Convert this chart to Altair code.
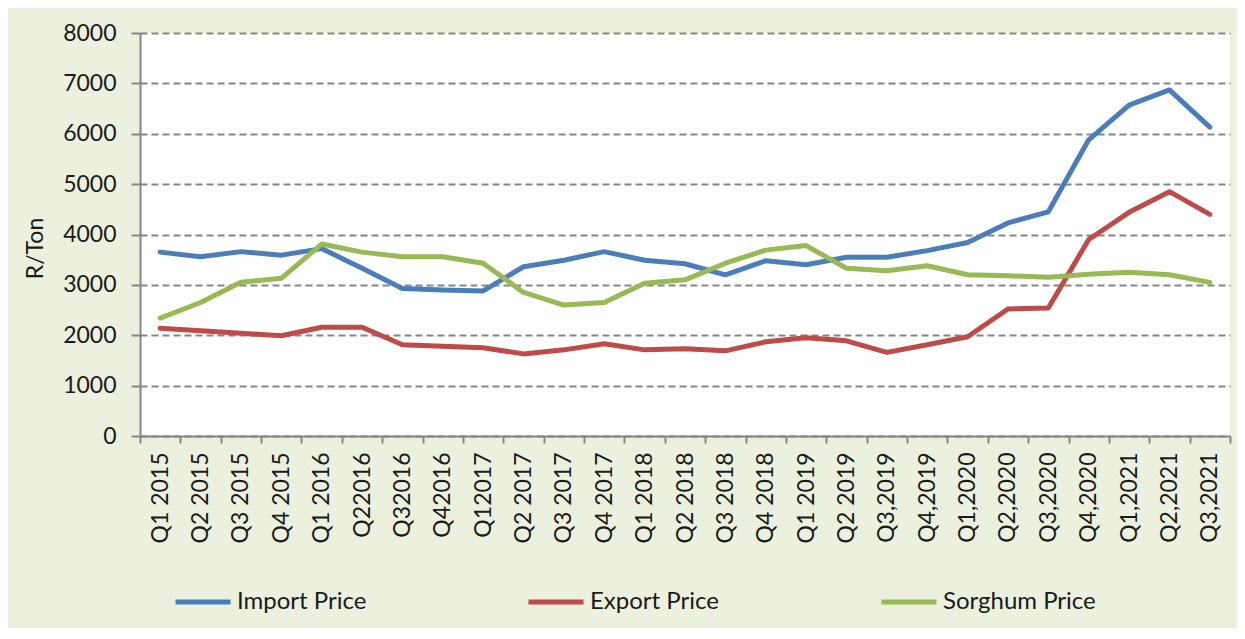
import altair as alt
import pandas as pd

quarters = ["Q1 2015", "Q2 2015", "Q3 2015", "Q4 2015", "Q1 2016", "Q22016",
            "Q32016", "Q42016", "Q12017", "Q2 2017", "Q3 2017", "Q4 2017",
            "Q1 2018", "Q2 2018", "Q3  2018", "Q4 2018", "Q1 2019", "Q2 2019",
            "Q3,2019", "Q4,2019", "Q1,2020", "Q2,2020", "Q3,2020", "Q4,2020",
            "Q1,2021", "Q2,2021", "Q3,2021"]

import_price = [3650, 3560, 3660, 3590, 3720, 3330, 2930, 2900, 2880, 3360,
                3490, 3660, 3490, 3420, 3200, 3480, 3400, 3550, 3550, 3680,
                3840, 4230, 4450, 5880, 6570, 6870, 6130]

export_price = [2140, 2090, 2040, 1990, 2160, 2160, 1810, 1780, 1750, 1630,
                1710, 1830, 1710, 1730, 1690, 1870, 1950, 1890, 1660, 1810,
                1970, 2520, 2540, 3900, 4440, 4850, 4400]

sorghum_price = [2340, 2650, 3050, 3130, 3810, 3650, 3560, 3560, 3430, 2850,
                 2600, 2650, 3030, 3100, 3430, 3690, 3780, 3330, 3280, 3380,
                 3200, 3180, 3150, 3210, 3250, 3200, 3050]

series_names = ["Import Price", "Export Price", "Sorghum Price"]
series_colors = ["#4A7EBB", "#BE4B48", "#98B954"]

rows = []
for name, vals in zip(series_names, [import_price, export_price, sorghum_price]):
    for q, v in zip(quarters, vals):
        rows.append({"Quarter": q, "Value": v, "Series": name})
df = pd.DataFrame(rows)

FONT = "Lato"

chart = alt.Chart(df).mark_line(strokeWidth=5, strokeCap="round", strokeJoin="round").encode(
    x=alt.X("Quarter:N", sort=quarters,
            scale=alt.Scale(paddingInner=0, paddingOuter=0),
            axis=alt.Axis(title=None, labelAngle=-90, tickBand="extent",
                          grid=False, domainColor="#868686", domainWidth=2,
                          tickColor="#868686", tickWidth=2, tickSize=7,
                          labelPadding=9, labelFont=FONT, labelFontSize=23,
                          labelColor="#1a1a1a", labelLimit=200)),
    y=alt.Y("Value:Q", scale=alt.Scale(domain=[0, 8000], nice=False),
            axis=alt.Axis(title="R/Ton", values=[0, 1000, 2000, 3000, 4000, 5000, 6000, 7000, 8000],
                          format="d", grid=True, gridColor="#868686", gridWidth=2,
                          gridDash=[7, 4], domainColor="#868686", domainWidth=2,
                          tickColor="#868686", tickWidth=2, tickSize=9,
                          labelPadding=15, labelFont=FONT, labelFontSize=23,
                          labelColor="#1a1a1a", titleFont=FONT, titleFontSize=23,
                          titleFontWeight="normal", titleColor="#1a1a1a",
                          titleAngle=-90, titleX=-105, titleY=215,
                          titleAlign="center", titleBaseline="middle")),
    color=alt.Color("Series:N", sort=series_names,
                    scale=alt.Scale(domain=series_names, range=series_colors),
                    legend=alt.Legend(title=None, orient="none", direction="horizontal",
                                      columns=3, gridAlign="all", legendX=33, legendY=539,
                                      symbolType="stroke", symbolSize=3025,
                                      symbolStrokeWidth=5, labelOffset=4,
                                      columnPadding=128, labelFont=FONT,
                                      labelFontSize=24, labelColor="#1a1a1a",
                                      padding=0)),
).properties(
    width=1090,
    height=403,
    autosize=alt.AutoSizeParams(type="none"),
    padding={"left": 132, "top": 25, "right": 7, "bottom": 192},
    background="#EBF1DE",
).configure_view(
    fill="white",
    stroke=None,
    strokeWidth=0,
)

chart.save("out.html", embed_options={"renderer": "svg", "actions": False})
